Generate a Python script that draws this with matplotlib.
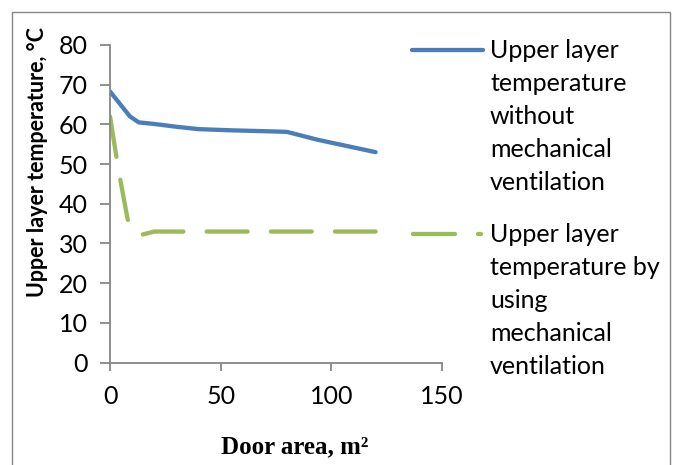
import matplotlib.pyplot as plt
from matplotlib.lines import Line2D
from matplotlib.patches import Rectangle

# values
area_no_vent = [0, 4, 9, 13, 20, 30, 40, 55, 75, 80, 94, 120]
temp_no_vent = [68.3, 65.5, 62, 60.5, 60.1, 59.4, 58.8, 58.5, 58.2, 58.1, 56.1, 53]
area_vent = [0, 4, 8, 13, 20, 120]
temp_vent = [62, 48, 36, 32, 33, 33]

label_no_vent = 'Upper layer\ntemperature\nwithout\nmechanical\nventilation'
label_vent = 'Upper layer\ntemperature by\nusing\nmechanical\nventilation'

blue = '#4A7EBB'
green = '#9BBB59'
grey = '#868686'

plt.rcParams['font.family'] = ['Lato', 'DejaVu Sans']

W, H = 675, 465
fig = plt.figure(figsize=(W / 100, H / 100), dpi=100)

# outer chart frame
fig.add_artist(Rectangle((12 / W, -0.05), (670 - 12) / W, 1.05 - 12 / H,
                         transform=fig.transFigure, fill=False,
                         edgecolor=grey, linewidth=1))

ax = fig.add_axes([110 / W, (H - 362.5) / H, (442 - 110) / W, (362.5 - 45) / H])
ax.plot(area_no_vent, temp_no_vent, color=blue, linewidth=3.1,
        solid_capstyle='round', solid_joinstyle='round')
ax.plot(area_vent, temp_vent, color=green, linewidth=3.1,
        dashes=(9.5, 5.4), dash_capstyle='round', dash_joinstyle='round')

ax.set_xlim(0, 150)
ax.set_ylim(0, 80)
ax.set_xticks([0, 50, 100, 150])
ax.set_yticks(range(0, 81, 10))
for s in ['top', 'right']:
    ax.spines[s].set_visible(False)
for s in ['left', 'bottom']:
    ax.spines[s].set_color(grey)
    ax.spines[s].set_linewidth(1.3)
ax.tick_params(axis='both', colors=grey, labelcolor='black', labelsize=18,
               width=1.3, direction='out')
ax.tick_params(axis='y', length=7, pad=9)
ax.tick_params(axis='x', length=6, pad=10)

fig.text(38 / W, 1 - 162 / H, 'Upper layer temperature, °C', rotation=90,
         ha='center', va='center', fontsize=15.5, fontweight='bold')
fig.text(295 / W, 1 - 447 / H, 'Door area, m²', ha='center', va='center',
         fontsize=18, fontweight='bold', family='Liberation Serif')

# legend drawn by hand, Excel style (marker at the first text line)
fig.add_artist(Line2D([412 / W, 483 / W], [1 - 50 / H, 1 - 50 / H],
                      transform=fig.transFigure, color=blue, linewidth=3.1,
                      solid_capstyle='round'))
fig.add_artist(Line2D([413 / W, 455 / W], [1 - 234 / H, 1 - 234 / H],
                      transform=fig.transFigure, color=green, linewidth=3.1,
                      solid_capstyle='round'))
fig.add_artist(Line2D([477.5 / W, 480.5 / W], [1 - 234 / H, 1 - 234 / H],
                      transform=fig.transFigure, color=green, linewidth=3.1,
                      solid_capstyle='round'))
fig.text(490 / W, 1 - 39 / H, label_no_vent, ha='left', va='top',
         fontsize=18, linespacing=1.52)
fig.text(490 / W, 1 - 223 / H, label_vent, ha='left', va='top',
         fontsize=18, linespacing=1.52)

fig.savefig('out.png', dpi=100)
